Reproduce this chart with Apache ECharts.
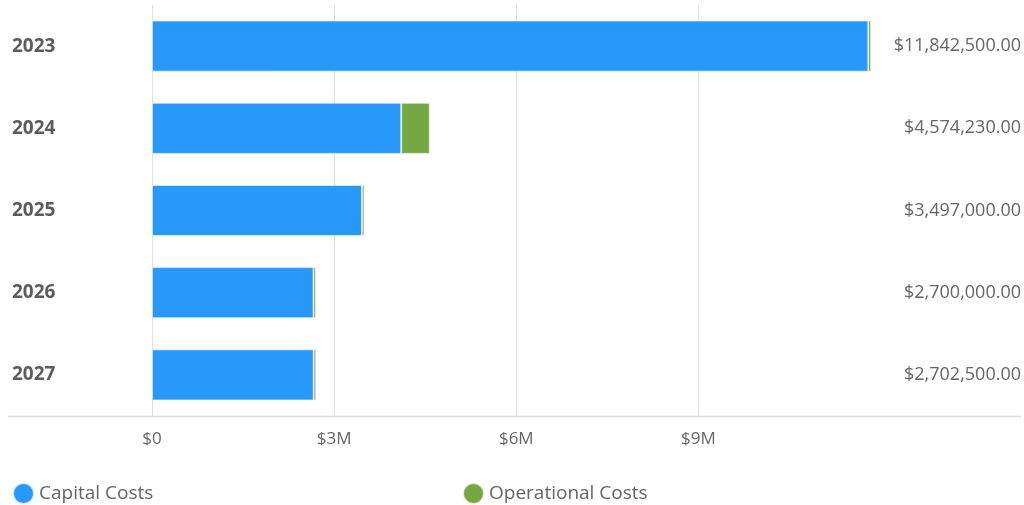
<!DOCTYPE html>
<html>
<head>
<meta charset="utf-8">
<title>Capital and Operational Costs by Year</title>
<script src="https://cdn.jsdelivr.net/npm/echarts@6/dist/echarts.min.js"></script>
<style>
  html, body { margin: 0; padding: 0; background: #fff; }
  #chart { width: 1024px; height: 505px; }
</style>
</head>
<body>
<div id="chart"></div>
<script>
// Yearly cost breakdown (USD)
const years = ['2023', '2024', '2025', '2026', '2027'];
const capitalCosts = [11797500, 4104230, 3457000, 2660000, 2662500];
const operationalCosts = [45000, 470000, 40000, 40000, 40000];
const xTickStep = 3000000;

const FONT = '"Open Sans", sans-serif';
const BLUE = '#2898f9';
const GREEN = '#75a743';

const totals = years.map((_, i) => capitalCosts[i] + operationalCosts[i]);
const totalLabels = totals.map(v =>
  '$' + v.toLocaleString('en-US', { minimumFractionDigits: 2, maximumFractionDigits: 2 })
);

function money(v) {
  if (v === 0) return '$0';
  return '$' + (v / 1e6) + 'M';
}

const chart = echarts.init(document.getElementById('chart'), null, { renderer: 'canvas' });

const legendText = { fontFamily: FONT, fontSize: 19, color: '#666' };

chart.setOption({
  animation: false,
  backgroundColor: '#fff',
  textStyle: { fontFamily: FONT },
  grid: { left: 152, right: 153, top: 5, bottom: 89, containLabel: false },
  legend: [
    {
      data: ['Capital Costs'],
      left: 7, top: 477,
      icon: 'circle', itemWidth: 21, itemHeight: 21,
      textStyle: legendText
    },
    {
      data: ['Operational Costs'],
      left: 457, top: 477,
      icon: 'circle', itemWidth: 21, itemHeight: 21,
      textStyle: legendText
    }
  ],
  xAxis: {
    type: 'value',
    min: 0,
    max: Math.max.apply(null, totals),
    interval: xTickStep,
    axisLine: { show: false },
    axisTick: { show: false },
    splitLine: { show: true, showMaxLine: false, lineStyle: { color: '#e0e0e0', width: 1 } },
    axisLabel: {
      fontFamily: FONT, fontSize: 17, color: '#666', margin: 15,
      showMaxLabel: false,
      formatter: money
    }
  },
  yAxis: [
    {
      type: 'category',
      data: years,
      inverse: true,
      position: 'left',
      axisLine: { show: false },
      axisTick: { show: false },
      axisLabel: {
        align: 'left', margin: 140,
        fontFamily: FONT, fontSize: 19, fontWeight: 'bold', color: '#5c5c5c'
      }
    },
    {
      type: 'category',
      data: totalLabels,
      inverse: true,
      position: 'right',
      axisLine: { show: false },
      axisTick: { show: false },
      axisLabel: {
        align: 'right', margin: 150,
        fontFamily: FONT, fontSize: 18, color: '#666'
      }
    }
  ],
  graphic: [
    {
      type: 'line',
      z: 1,
      shape: { x1: 8, y1: 416.5, x2: 1021, y2: 416.5 },
      style: { stroke: '#dedede', lineWidth: 1.5 }
    }
  ],
  series: [
    {
      name: 'Capital Costs',
      type: 'bar',
      stack: 'cost',
      yAxisIndex: 0,
      data: capitalCosts,
      barCategoryGap: '38%',
      itemStyle: { color: BLUE, borderColor: 'rgba(255,255,255,0.75)', borderWidth: 0.8 }
    },
    {
      name: 'Operational Costs',
      type: 'bar',
      stack: 'cost',
      yAxisIndex: 0,
      data: operationalCosts,
      barCategoryGap: '38%',
      itemStyle: { color: GREEN, borderColor: 'rgba(255,255,255,0.75)', borderWidth: 0.8 }
    }
  ]
});
</script>
</body>
</html>
